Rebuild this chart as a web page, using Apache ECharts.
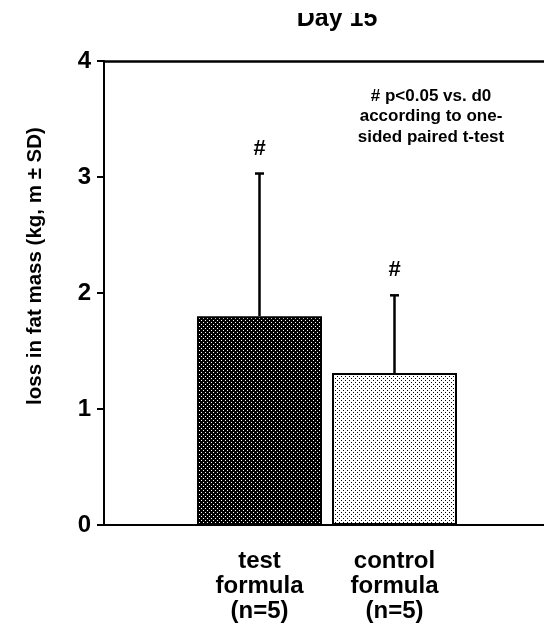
<!DOCTYPE html>
<html>
<head>
<meta charset="utf-8">
<script src="https://cdn.jsdelivr.net/npm/echarts@6/dist/echarts.min.js"></script>
<style>
  html, body { margin: 0; padding: 0; background: #fff; }
  #chart { width: 544px; height: 634px; }
</style>
</head>
<body>
<div id="chart"></div>
<script>
// data
const categories = ["test\nformula\n(n=5)", "control\nformula\n(n=5)"]
const means = [1.8, 1.31]
const sds = [1.23, 0.67]
const marks = ["#", "#"]
const yTicks = [0, 1, 2, 3, 4]

const font = "'Liberation Sans', Arial, Helvetica, sans-serif"

// dotted fill patterns
function dots(bg, fg) {
  const c = document.createElement("canvas")
  c.width = 4
  c.height = 4
  const ctx = c.getContext("2d")
  ctx.fillStyle = bg
  ctx.fillRect(0, 0, 4, 4)
  ctx.fillStyle = fg
  ctx.fillRect(1, 0, 1, 1)
  ctx.fillRect(3, 2, 1, 1)
  return c
}
const fills = [
  { image: dots("#000", "#fff"), repeat: "repeat" },
  { image: dots("#fff", "#000"), repeat: "repeat" }
]

const chart = echarts.init(document.getElementById("chart"))

const option = {
  animation: false,
  textStyle: { fontFamily: font },
  grid: [
    { left: 104, right: -4, top: 61, bottom: 109 },
    { left: 192, right: 82, top: 61, bottom: 109 }
  ],
  xAxis: [
    {
      gridIndex: 0, type: "value", min: 0, max: 1, position: "bottom",
      axisLine: { show: true, lineStyle: { color: "#000", width: 2 } },
      axisTick: { show: false }, axisLabel: { show: false }, splitLine: { show: false }
    },
    {
      gridIndex: 0, type: "value", min: 0, max: 1, position: "top",
      axisLine: { show: true, lineStyle: { color: "#000", width: 2.5 } },
      axisTick: { show: false }, axisLabel: { show: false }, splitLine: { show: false }
    },
    {
      gridIndex: 1, type: "category", data: categories,
      axisLine: { show: false }, axisTick: { show: false },
      axisLabel: {
        color: "#000", fontWeight: "bold", fontSize: 24, lineHeight: 25,
        margin: 24, fontFamily: font
      }
    }
  ],
  yAxis: [
    {
      gridIndex: 0, type: "value", min: yTicks[0], max: yTicks[yTicks.length - 1], interval: 1,
      axisLine: { show: true, lineStyle: { color: "#000", width: 2 } },
      axisTick: { show: true, length: 7, lineStyle: { color: "#000", width: 2 } },
      axisLabel: { color: "#000", fontWeight: "bold", fontSize: 24, margin: 13, fontFamily: font },
      splitLine: { show: false }
    },
    {
      gridIndex: 1, type: "value", min: yTicks[0], max: yTicks[yTicks.length - 1],
      show: false
    }
  ],
  series: [
    {
      type: "bar",
      xAxisIndex: 2,
      yAxisIndex: 1,
      barWidth: 125,
      data: means.map((v, i) => ({
        value: v,
        itemStyle: { color: fills[i], borderColor: "#000", borderWidth: 2 }
      }))
    },
    {
      type: "custom",
      xAxisIndex: 2,
      yAxisIndex: 1,
      data: means.map((m, i) => [i, m, sds[i]]),
      encode: { x: 0, y: 1 },
      z: 3,
      renderItem: function (params, api) {
        const i = api.value(0)
        const m = api.value(1)
        const sd = api.value(2)
        const base = api.coord([i, m])
        const top = api.coord([i, m + sd])
        return {
          type: "group",
          children: [
            {
              type: "line",
              shape: { x1: base[0], y1: base[1], x2: top[0], y2: top[1] },
              style: { stroke: "#000", lineWidth: 2.5 }
            },
            {
              type: "line",
              shape: { x1: top[0] - 4.5, y1: top[1], x2: top[0] + 4.5, y2: top[1] },
              style: { stroke: "#000", lineWidth: 2.5 }
            },
            {
              type: "text",
              x: top[0],
              y: top[1] - 25,
              style: {
                text: marks[params.dataIndex],
                fill: "#000",
                font: "bold 22px " + font,
                align: "center",
                verticalAlign: "middle"
              }
            }
          ]
        }
      }
    }
  ],
  graphic: [
    {
      type: "text",
      x: 337, y: 7,
      style: {
        text: "Day 15", fill: "#000", font: "bold 25px " + font,
        align: "center", verticalAlign: "top"
      }
    },
    {
      // the figure is cropped just above the title
      type: "rect",
      shape: { x: 0, y: 0, width: 544, height: 13 },
      style: { fill: "#fff" },
      z: 10
    },
    {
      type: "text",
      x: 431, y: 86,
      style: {
        text: "# p<0.05 vs. d0\naccording to one-\nsided paired t-test",
        fill: "#000", font: "bold 17px " + font, lineHeight: 20.5,
        align: "center", verticalAlign: "top"
      }
    },
    {
      type: "text",
      x: 35, y: 266,
      rotation: Math.PI / 2,
      style: {
        text: "loss in fat mass (kg, m \u00b1 SD)",
        fill: "#000", font: "bold 20.5px " + font,
        align: "center", verticalAlign: "middle"
      }
    }
  ]
}

chart.setOption(option)
window.addEventListener("resize", () => chart.resize())
</script>
</body>
</html>
